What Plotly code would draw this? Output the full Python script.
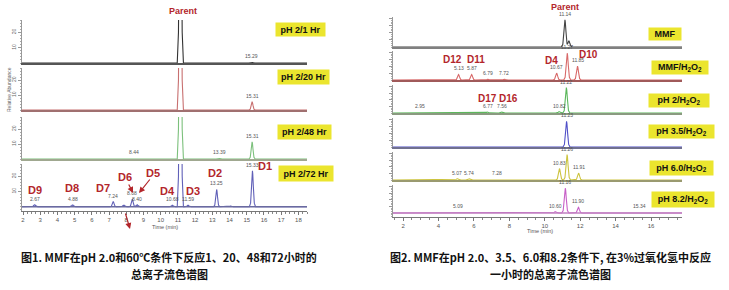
import numpy as np
import plotly.graph_objects as go

W, H = 729, 290

# ---------------- Figure 1 data (retention time in min, relative abundance) ----------------
L_TITLES = ["pH 2/1 Hr", "pH 2/20 Hr", "pH 2/48 Hr", "pH 2/72 Hr"]
L1_TIME = [11.14, 15.29]
L1_ABUND = [200, 0.6]
L1_LABEL = ["", "15.29"]
L2_TIME = [11.14, 15.31]
L2_ABUND = [200, 5.5]
L2_LABEL = ["", "15.31"]
L3_TIME = [8.44, 11.14, 13.39, 15.31]
L3_ABUND = [0.5, 200, 0.6, 11.5]
L3_LABEL = ["8.44", "", "13.39", "15.31"]
L4_TIME = [2.67, 4.88, 7.24, 7.85, 8.35, 8.62, 10.68, 11.14, 11.59, 13.25, 14.05, 15.33]
L4_ABUND = [1.4, 1.2, 3.4, 1.1, 5.0, 1.4, 1.0, 200, 1.0, 11.3, 0.5, 23.5]
L4_LABEL = ["2.67", "4.88", "7.24", "", "8.08", "8.40", "10.68", "", "11.59", "13.25", "", "15.33"]
L_XTICKS = list(range(2, 19))
L_YTICKS = [10, 20]

# ---------------- Figure 2 data (normalised abundance) ----------------
R_TITLES = ["MMF", "MMF/H<sub>2</sub>O<sub>2</sub>", "pH 2/H<sub>2</sub>O<sub>2</sub>",
            "pH 3.5/H<sub>2</sub>O<sub>2</sub>", "pH 6.0/H<sub>2</sub>O<sub>2</sub>",
            "pH 8.2/H<sub>2</sub>O<sub>2</sub>"]
R1_TIME = [11.14, 11.36]
R1_ABUND = [0.95, 0.22]
R1_LABEL = ["11.14", ""]
R2_TIME = [5.13, 5.87, 6.79, 7.72, 10.67, 11.27, 11.85]
R2_ABUND = [0.20, 0.20, 0.03, 0.03, 0.25, 0.97, 0.50]
R2_LABEL = ["5.13", "5.87", "6.79", "7.72", "10.67", "11.27", "11.85"]
R3_TIME = [2.95, 6.77, 7.56, 10.82, 11.22]
R3_ABUND = [0.02, 0.04, 0.04, 0.05, 0.95]
R3_LABEL = ["2.95", "6.77", "7.56", "10.82", "11.22"]
R4_TIME = [11.23]
R4_ABUND = [0.93]
R4_LABEL = ["11.23"]
R5_TIME = [5.07, 5.74, 7.28, 10.83, 11.26, 11.91]
R5_ABUND = [0.05, 0.04, 0.02, 0.43, 0.95, 0.26]
R5_LABEL = ["5.07", "5.74", "7.28", "10.83", "11.26", "11.91"]
R6_TIME = [5.09, 10.60, 11.16, 11.90, 15.34]
R6_ABUND = [0.02, 0.05, 0.93, 0.21, 0.02]
R6_LABEL = ["5.09", "10.60", "11.16", "11.90", "15.34"]
R_XTICKS = [2, 4, 6, 8, 10, 12, 14, 16]

CAP1_L1 = "图1. MMF在pH 2.0和60℃条件下反应1、20、48和72小时的"
CAP1_L2 = "总离子流色谱图"
CAP2_L1 = "图2. MMF在pH 2.0、3.5、6.0和8.2条件下, 在3%过氧化氢中反应"
CAP2_L2 = "一小时的总离子流色谱图"

# ---------------- styling / layout constants ----------------
LAT = "Liberation Sans, Arial, sans-serif"
CJK = "Noto Sans CJK SC"
RED = "#b3262b"
YEL = "#ebe52e"
SHAPE_OFF = np.array([-1, -0.6, -0.3, -0.1, 0, 0.1, 0.3, 0.6, 1])
SHAPE_VAL = np.array([0, 0.1, 0.55, 0.92, 1, 0.92, 0.55, 0.1, 0])


def px(x):
    return x / W


def py(y):
    return 1 - y / H


def chromatogram(times, abund, hw, x0, x1):
    xs = [x0, x1]
    for t in times:
        xs.extend(list(t + hw * SHAPE_OFF))
    xs = np.array(sorted(set(xs)))
    ys = np.zeros_like(xs)
    for t, h in zip(times, abund):
        ys = np.maximum(ys, np.interp(xs, t + hw * SHAPE_OFF, h * SHAPE_VAL, left=0, right=0))
    return xs, ys


L_XR = [1.94, 18.5]
R_XR = [1.43, 17.75]

left_panels = [
    (L1_TIME, L1_ABUND, L1_LABEL, (20, 63), [0, 28], "#333333", "#555555"),
    (L2_TIME, L2_ABUND, L2_LABEL, (68, 110), [0, 28], "#c87070", "#a07070"),
    (L3_TIME, L3_ABUND, L3_LABEL, (117, 159), [0, 28], "#7cc07c", "#a0a890"),
    (L4_TIME, L4_ABUND, L4_LABEL, (164, 211), [-2.8, 28], "#6060b8", "#6a6aa0"),
]
right_panels = [
    (R1_TIME, R1_ABUND, R1_LABEL, (17, 47), [0, 1.05], "#444444", "#808080"),
    (R2_TIME, R2_ABUND, R2_LABEL, (51, 80), [0, 1.05], "#d86a6a", "#a05a5a"),
    (R3_TIME, R3_ABUND, R3_LABEL, (85, 113), [0, 1.05], "#5cb85c", "#8a9a80"),
    (R4_TIME, R4_ABUND, R4_LABEL, (118, 147), [0, 1.05], "#5050c8", "#707090"),
    (R5_TIME, R5_ABUND, R5_LABEL, (152, 180), [0, 1.05], "#cdc440", "#9a9a70"),
    (R6_TIME, R6_ABUND, R6_LABEL, (185, 217), [-0.15, 1.05], "#c860c8", "#c080c0"),
]

fig = go.Figure()
layout = {}
annotations = []

n = 0
for side, panels in (("L", left_panels), ("R", right_panels)):
    xr = L_XR if side == "L" else R_XR
    xdom = [px(22), px(307)] if side == "L" else [px(393), px(682)]
    hw = 0.18 if side == "L" else 0.2
    for k, (tt, aa, lb, (ytop, ybot), yr, col, basecol) in enumerate(panels):
        n += 1
        xs, ys = chromatogram(tt, aa, hw, xr[0], xr[1])
        xa = "x" if n == 1 else f"x{n}"
        ya = "y" if n == 1 else f"y{n}"
        fig.add_trace(go.Scatter(x=xs, y=ys, mode="lines", xaxis=xa, yaxis=ya,
                                 line=dict(color=col, width=1.1), hoverinfo="skip",
                                 showlegend=False))
        bottom = (k == len(panels) - 1)
        xkey = "xaxis" if n == 1 else f"xaxis{n}"
        ykey = "yaxis" if n == 1 else f"yaxis{n}"
        xaxis = dict(domain=xdom, range=xr, anchor=ya, showgrid=False, zeroline=False,
                     showline=True, linewidth=2 if not bottom else 1.2,
                     linecolor=basecol if not bottom else "#777777", fixedrange=True)
        if bottom:
            xaxis.update(ticks="outside", ticklen=3, tickcolor="#777777", tickwidth=1,
                         tickvals=L_XTICKS if side == "L" else R_XTICKS,
                         tickfont=dict(size=6, color="#555555", family=LAT),
                         minor=dict(ticks="outside", ticklen=2, tickcolor="#888888",
                                    dtick=0.25 if side == "L" else 0.5))
        else:
            xaxis.update(showticklabels=False, ticks="")
        yaxis = dict(domain=[py(ybot), py(ytop)], range=yr, anchor=xa, showgrid=False,
                     zeroline=False, showline=True, linewidth=1, linecolor="#999999",
                     ticks="outside", ticklen=3, tickcolor="#999999", fixedrange=True)
        if side == "L":
            yaxis.update(tickvals=L_YTICKS, tickangle=-90,
                         tickfont=dict(size=5, color="#666666", family=LAT),
                         minor=dict(ticks="outside", ticklen=1.5, tickcolor="#aaaaaa", dtick=2))
        else:
            yaxis.update(tickvals=[0.25, 0.5, 0.75, 1.0], showticklabels=False,
                         minor=dict(ticks="outside", ticklen=1.5, tickcolor="#aaaaaa", dtick=0.0625))
        layout[xkey] = xaxis
        layout[ykey] = yaxis
        if bottom:
            fig.add_trace(go.Scatter(x=xr, y=[0, 0], mode="lines", xaxis=xa, yaxis=ya,
                                     line=dict(color=basecol, width=1.5), hoverinfo="skip",
                                     showlegend=False))
        for t, h, s in zip(tt, aa, lb):
            if s:
                annotations.append(dict(x=t, y=min(h, yr[1]), xref=xa, yref=ya, text=s,
                                        showarrow=False, xanchor="center", yanchor="bottom",
                                        yshift=1,
                                        font=dict(size=5, color="#555555", family=LAT)))

# yellow condition boxes
L_BOX = [(275, 22, 49, 13), (277, 69, 51, 14), (277, 124, 53, 14), (278, 165, 54, 15)]
R_BOX = [(648, 27, 32, 12), (651, 60, 56, 13), (648, 93, 60, 13),
         (648, 124, 65, 13), (649, 160, 63, 14), (651, 191, 62, 15)]
for (x, y, w, h), s in list(zip(L_BOX, L_TITLES)) + list(zip(R_BOX, R_TITLES)):
    annotations.append(dict(x=px(x), y=py(y), xref="paper", yref="paper", xanchor="left",
                            yanchor="top", width=w, height=h, bgcolor=YEL, borderpad=0,
                            showarrow=False, text="<b>" + s + "</b>", align="center",
                            valign="middle", font=dict(size=9, color="#111111", family=LAT)))

# red peak names
RED_LBL = [("Parent", 183, 11, 9), ("D9", 35, 190, 11), ("D8", 72, 188, 11), ("D7", 103, 188, 11),
           ("D6", 125, 177, 11), ("D5", 153, 173, 11), ("D4", 167, 191, 11), ("D3", 193, 191, 11),
           ("D2", 215, 173, 11), ("D1", 265, 166, 11),
           ("Parent", 565, 7, 9), ("D12", 452, 60, 10), ("D11", 476, 60, 10), ("D4", 551, 61, 10),
           ("D10", 588, 54, 10), ("D17", 487, 98, 10), ("D16", 508, 98, 10)]
for s, x, y, fs in RED_LBL:
    annotations.append(dict(x=px(x), y=py(y), xref="paper", yref="paper", showarrow=False,
                            xanchor="center", yanchor="middle",
                            text="<b>" + s + "</b>", font=dict(size=fs, color=RED, family=LAT)))

# red arrows (head x,y ; tail offset)
ARROWS = [(133, 193, -5, -10), (139, 193, 12, -15), (130, 229, -5, -17)]
for x, y, ax, ay in ARROWS:
    annotations.append(dict(x=px(x), y=py(y), xref="paper", yref="paper", text="",
                            showarrow=True, ax=ax, ay=ay, arrowhead=2, arrowsize=1,
                            arrowwidth=1.2, arrowcolor=RED))

# small axis titles
annotations += [
    dict(x=px(9), y=py(90), xref="paper", yref="paper", text="Relative Abundance",
         xanchor="center", yanchor="middle",
         textangle=-90, showarrow=False, font=dict(size=5, color="#666666", family=LAT)),
    dict(x=px(165), y=py(227), xref="paper", yref="paper", text="Time (min)",
         xanchor="center", yanchor="middle",
         showarrow=False, font=dict(size=5.5, color="#555555", family=LAT)),
    dict(x=px(540), y=py(231), xref="paper", yref="paper", text="Time (min)",
         xanchor="center", yanchor="middle",
         showarrow=False, font=dict(size=5.5, color="#555555", family=LAT)),
]

# captions
for s, x, y in [(CAP1_L1, 169, 257), (CAP1_L2, 169, 274), (CAP2_L1, 550, 257), (CAP2_L2, 550, 274)]:
    annotations.append(dict(x=px(x), y=py(y), xref="paper", yref="paper", text=s,
                            xanchor="center", yanchor="middle",
                            showarrow=False,
                            font=dict(size=11, color="#111111", family=CJK, weight=600)))

fig.update_layout(width=W, height=H, margin=dict(l=0, r=0, t=0, b=0),
                  paper_bgcolor="white", plot_bgcolor="white", showlegend=False,
                  annotations=annotations, **layout)

fig.write_html("out.html")
